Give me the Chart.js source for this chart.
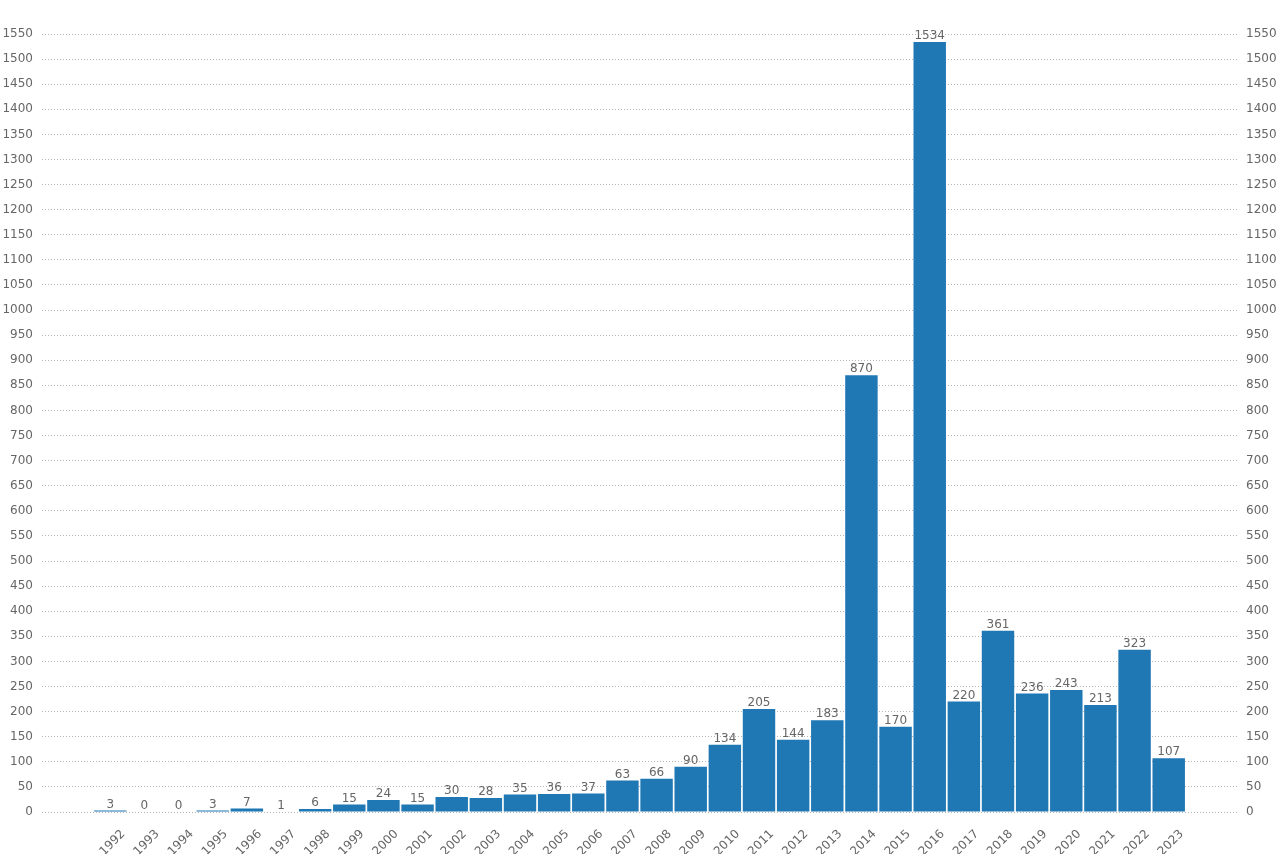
<!DOCTYPE html>
<html>
<head>
<meta charset="utf-8">
<script src="https://cdn.jsdelivr.net/npm/chart.js@4/dist/chart.umd.min.js"></script>
<style>
  html, body { margin: 0; padding: 0; background: #fff; }
  #wrap { width: 1280px; height: 854px; }
</style>
</head>
<body>
<div id="wrap"><canvas id="Year_Chart"></canvas></div>
<script>
const years = [1992, 1993, 1994, 1995, 1996, 1997, 1998, 1999, 2000, 2001, 2002, 2003, 2004, 2005, 2006, 2007,
    2008, 2009, 2010, 2011, 2012, 2013, 2014, 2015, 2016, 2017, 2018, 2019, 2020, 2021, 2022, 2023];
const counts = [3, 0, 0, 3, 7, 1, 6, 15, 24, 15, 30, 28, 35, 36, 37, 63,
    66, 90, 134, 205, 144, 183, 870, 170, 1534, 220, 361, 236, 243, 213, 323, 107];
const xRange = [1990, 2025];
const yMax = 1550;
const yStep = 50;

const textColor = '#666';
const gridColor = '#b5b5b5';

// draws the count above each bar
const barValues = {
    id: 'barValues',
    afterDatasetsDraw(chart) {
        const ctx = chart.ctx;
        const meta = chart.getDatasetMeta(0);
        ctx.save();
        ctx.font = '12px "DejaVu Sans"';
        ctx.fillStyle = textColor;
        ctx.textAlign = 'center';
        ctx.textBaseline = 'bottom';
        meta.data.forEach((bar, i) => {
            ctx.fillText(String(counts[i]), bar.x, bar.y);
        });
        ctx.restore();
    }
};

const yTicks = {
    color: textColor,
    font: { family: 'DejaVu Sans', size: 12 },
    stepSize: yStep,
    padding: 9,
    callback: (v) => String(v)
};

const ctx = document.getElementById('Year_Chart').getContext('2d');
new Chart(ctx, {
    type: 'bar',
    data: {
        datasets: [{
            data: years.map((y, i) => ({ x: y, y: counts[i] })),
            backgroundColor: '#1f77b4',
            borderWidth: 0,
            barPercentage: 0.95,
            categoryPercentage: 1
        }]
    },
    options: {
        responsive: true,
        maintainAspectRatio: false,
        animation: false,
        layout: { padding: { top: 34, left: 0, right: 0, bottom: 0 } },
        plugins: {
            legend: { display: false },
            tooltip: { enabled: false }
        },
        scales: {
            x: {
                type: 'linear',
                offset: false,
                min: xRange[0],
                max: xRange[1],
                grid: { display: false },
                border: { display: false },
                afterFit: (scale) => { scale.height = 42; scale.paddingLeft = 0; scale.paddingRight = 0; },
                ticks: {
                    stepSize: 1,
                    autoSkip: false,
                    maxRotation: 45,
                    minRotation: 45,
                    labelOffset: 13,
                    padding: 7,
                    color: textColor,
                    font: { family: 'DejaVu Sans', size: 12 },
                    callback: (v) => (v >= years[0] && v <= years[years.length - 1]) ? String(v) : ''
                }
            },
            y: {
                position: 'left',
                min: 0,
                max: yMax,
                z: 1,
                border: { display: false, dash: [1, 2] },
                grid: { color: gridColor, lineWidth: 1, drawTicks: false },
                afterFit: (scale) => { scale.width = 42; },
                ticks: yTicks
            },
            y2: {
                position: 'right',
                min: 0,
                max: yMax,
                border: { display: false },
                grid: { display: false, drawTicks: false },
                afterFit: (scale) => { scale.width = 43; },
                ticks: yTicks
            }
        }
    },
    plugins: [barValues]
});
</script>
</body>
</html>
